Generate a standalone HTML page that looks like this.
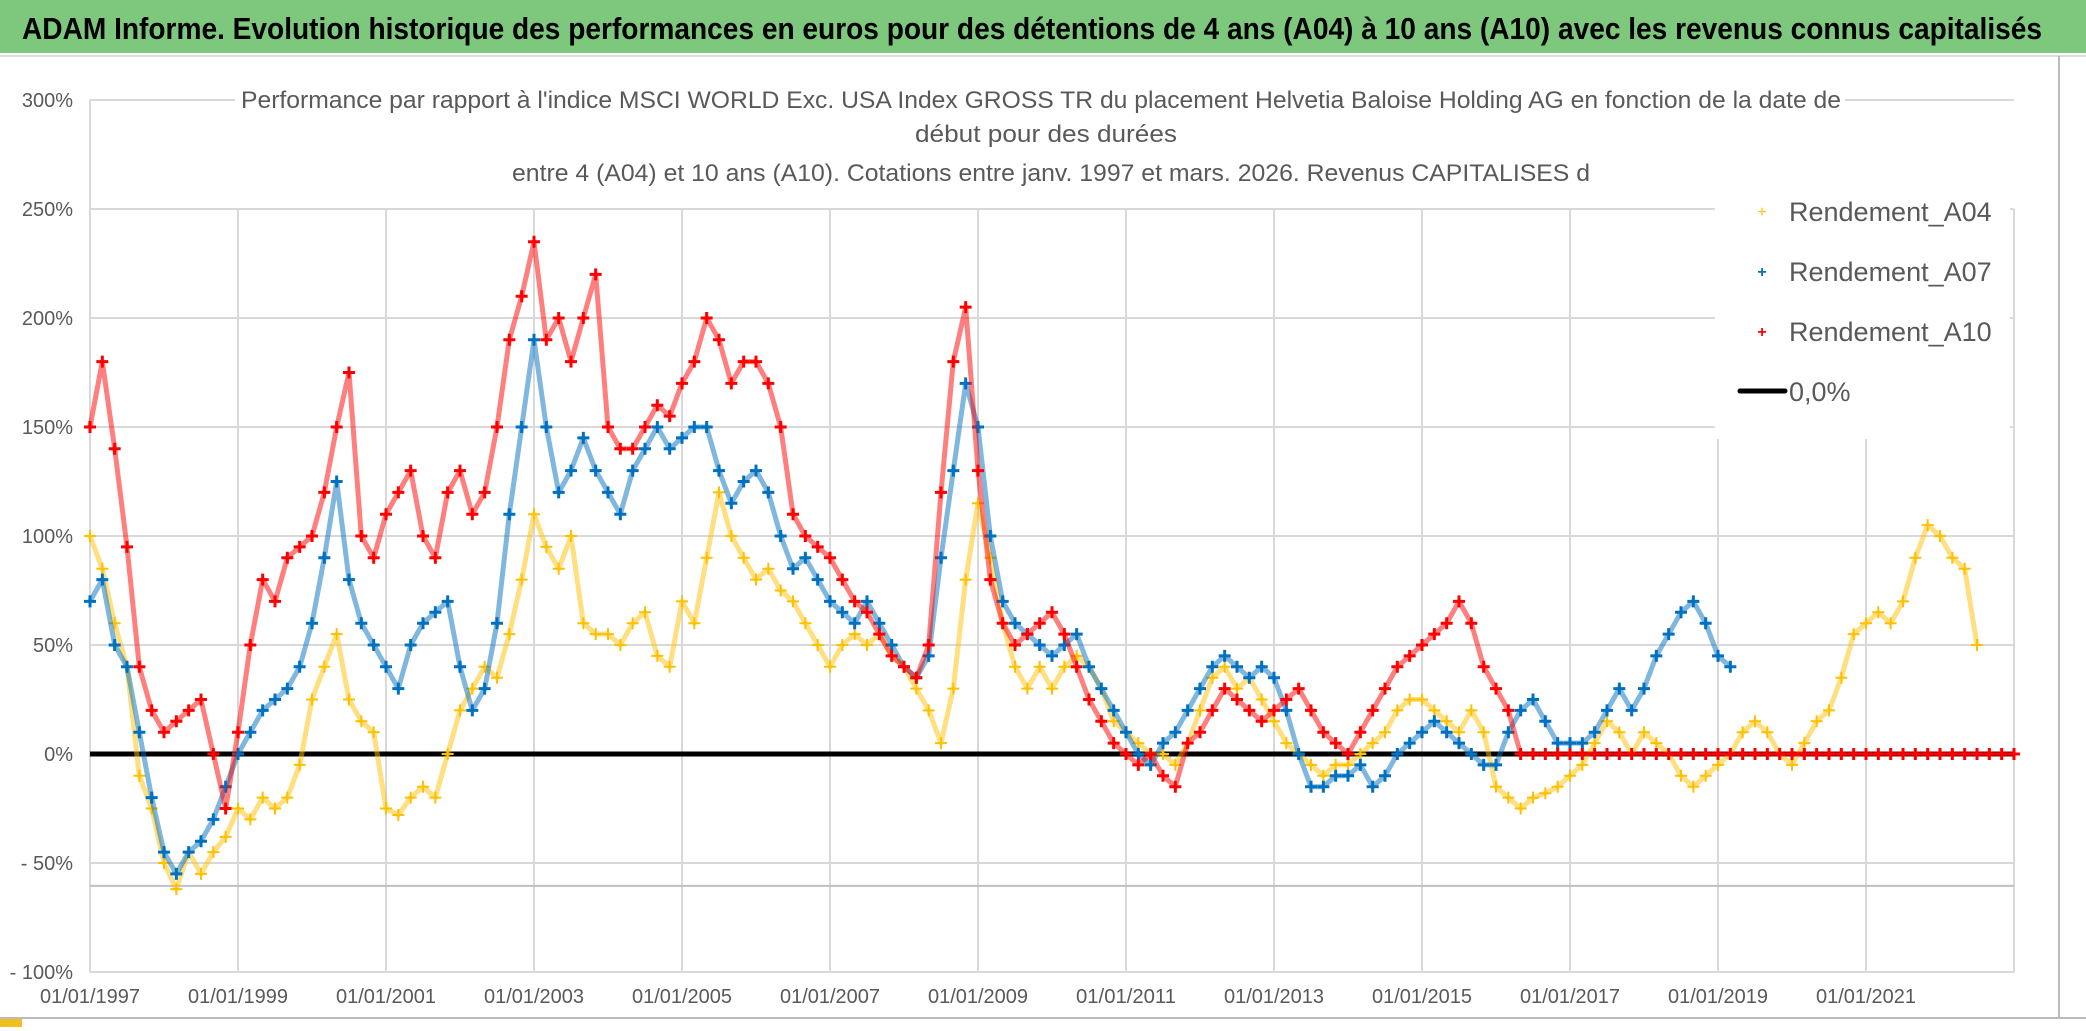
<!DOCTYPE html>
<html><head><meta charset="utf-8"><style>
html,body{margin:0;padding:0;background:#fff;}
svg{display:block;font-family:"Liberation Sans",sans-serif;}
</style></head><body>
<svg id="chart" width="2086" height="1031" viewBox="0 0 2086 1031">
<rect x="0" y="0" width="2086" height="53" fill="#7ec87e"/>
<text x="1032" y="39" text-anchor="middle" font-size="31" font-weight="bold" fill="#000" textLength="2020" lengthAdjust="spacingAndGlyphs">ADAM Informe. Evolution historique des performances en euros pour des détentions de 4 ans (A04) à 10 ans (A10) avec les revenus connus capitalisés</text>
<line x1="0" y1="56" x2="2086" y2="56" stroke="#ddd" stroke-width="2"/>
<line x1="2059" y1="56" x2="2059" y2="1017" stroke="#bbb" stroke-width="2"/>
<line x1="0" y1="1018" x2="2086" y2="1018" stroke="#bbb" stroke-width="2"/>
<rect x="0" y="1019" width="22" height="8" fill="#f0c020"/>
<g id="grid"></g>
<g id="yaxis"></g>
<g id="xaxis"></g>
<g id="series"></g>
<rect x="235" y="82" width="1610" height="108" fill="#fff"/>
<g fill="#595959" font-size="24" text-anchor="middle">
<text x="1041" y="108" textLength="1600" lengthAdjust="spacingAndGlyphs">Performance par rapport à l'indice MSCI WORLD Exc. USA Index GROSS TR  du placement Helvetia Baloise Holding AG en fonction de la date de</text>
<text x="1046" y="142" textLength="262" lengthAdjust="spacingAndGlyphs">début pour des durées</text>
<text x="1051" y="181" textLength="1078" lengthAdjust="spacingAndGlyphs">entre 4 (A04) et 10 ans (A10). Cotations entre janv. 1997 et mars. 2026. Revenus CAPITALISES d</text>
</g>
<rect x="1715" y="205" width="295" height="234" fill="#fff"/>
<g font-size="27" fill="#595959">
<g><text x="1762" y="217" font-size="16" fill="#ffc000" text-anchor="middle">+</text><text x="1789" y="221">Rendement_A04</text></g>
<g><text x="1762" y="277" font-size="16" fill="#0070c0" text-anchor="middle" font-weight="bold">+</text><text x="1789" y="281">Rendement_A07</text></g>
<g><text x="1762" y="337" font-size="16" fill="#ff0000" text-anchor="middle" font-weight="bold">+</text><text x="1789" y="341">Rendement_A10</text></g>
<g><line x1="1740" y1="391" x2="1785" y2="391" stroke="#000" stroke-width="5" stroke-linecap="round"/><text x="1789" y="401">0,0%</text></g>
</g>
</svg>
<script>
const yTicks=[300,250,200,150,100,50,0,-50,-100];
const yTickLabels=["300%","250%","200%","150%","100%","50%","0%","- 50%","- 100%"];
const xTickYears=[1997,1999,2001,2003,2005,2007,2009,2011,2013,2015,2017,2019,2021];
const xTickLabels=["01/01/1997","01/01/1999","01/01/2001","01/01/2003","01/01/2005","01/01/2007","01/01/2009","01/01/2011","01/01/2013","01/01/2015","01/01/2017","01/01/2019","01/01/2021"];
const startYear=1997;
const stepsPerYear=6;
const a04=[100,85,60,40,-10,-25, -50,-62,-45,-55,-45,-38, -25,-30,-20,-25,-20,-5, 25,40,55,25,15,10, -25,-28,-20,-15,-20,0, 20,30,40,35,55,80, 110,95,85,100,60,55, 55,50,60,65,45,40, 70,60,90,120,100,90, 80,85,75,70,60,50, 40,50,55,50,55,45, 40,30,20,5,30,80, 115,90,60,40,30,40, 30,40,45,40,30,15, 10,5,0,0,-5,5, 20,35,40,30,35,25, 15,5,0,-5,-10,-5, -5,0,5,10,20,25, 25,20,15,10,20,10, -15,-20,-25,-20,-18,-15, -10,-5,5,15,10,0, 10,5,0,-10,-15,-10, -5,0,10,15,10,0, -5,5,15,20,35,55, 60,65,60,70,90,105, 100,90,85,50];
const a07=[70,80,50,40,10,-20, -45,-55,-45,-40,-30,-15, 0,10,20,25,30,40, 60,90,125,80,60,50, 40,30,50,60,65,70, 40,20,30,60,110,150, 190,150,120,130,145,130, 120,110,130,140,150,140, 145,150,150,130,115,125, 130,120,100,85,90,80, 70,65,60,70,60,50, 40,35,45,90,130,170, 150,100,70,60,55,50, 45,50,55,40,30,20, 10,0,-5,5,10,20, 30,40,45,40,35,40, 35,20,0,-15,-15,-10, -10,-5,-15,-10,0,5, 10,15,10,5,0,-5, -5,10,20,25,15,5, 5,5,10,20,30,20, 30,45,55,65,70,60, 45,40];
const a10=[150,180,140,95,40,20, 10,15,20,25,0,-25, 10,50,80,70,90,95, 100,120,150,175,100,90, 110,120,130,100,90,120, 130,110,120,150,190,210, 235,190,200,180,200,220, 150,140,140,150,160,155, 170,180,200,190,170,180, 180,170,150,110,100,95, 90,80,70,65,55,45, 40,35,50,120,180,205, 130,80,60,50,55,60, 65,55,40,25,15,5, 0,-5,0,-10,-15,5, 10,20,30,25,20,15, 20,25,30,20,10,5, 0,10,20,30,40,45, 50,55,60,70,60,40, 30,20,0,0,0,0, 0,0,0,0,0,0, 0,0,0,0,0,0, 0,0,0,0,0,0, 0,0,0,0,0,0, 0,0,0,0,0,0, 0,0,0,0,0,0,0];
const zeroLine=[0];
const otherLine=[-60.5];

const NS="http://www.w3.org/2000/svg";
const X0=90,PX_PER_YEAR=74,Y0=754,PX_PER_PCT=2.18,XEND=2014;
function xs(t){return X0+(t-startYear)*PX_PER_YEAR;}
function ys(v){return Y0-v*PX_PER_PCT;}
function mk(tag,attrs,parent){const e=document.createElementNS(NS,tag);for(const k in attrs)e.setAttribute(k,attrs[k]);parent.appendChild(e);return e;}
const grid=document.getElementById('grid'),yax=document.getElementById('yaxis'),xax=document.getElementById('xaxis'),ser=document.getElementById('series');
yTicks.forEach((v,i)=>{
  const l=mk('line',{x1:X0,x2:XEND,y1:ys(v),y2:ys(v),stroke:'#d9d9d9','stroke-width':2},grid);
  
  
  const t=mk('text',{x:73,y:ys(v)+7,'text-anchor':'end','font-size':20,fill:'#595959'},yax);
  t.textContent=yTickLabels[i];
  
  
});
xTickYears.concat([2023]).forEach((yr,i)=>{
  const l=mk('line',{x1:xs(yr),x2:xs(yr),y1:ys(250),y2:ys(-100),stroke:'#d9d9d9','stroke-width':2},grid);
  
  
  if(i<xTickLabels.length){
    const t=mk('text',{x:xs(yr),y:1003,'text-anchor':'middle','font-size':20,fill:'#595959',textLength:100,lengthAdjust:'spacingAndGlyphs'},xax);
    t.textContent=xTickLabels[i];
    
    
  }
});
mk('line',{x1:X0,x2:X0,y1:ys(300),y2:ys(-100),stroke:'#d9d9d9','stroke-width':2},grid);
const ol=mk('line',{x1:X0,x2:XEND,y1:ys(otherLine[0]),y2:ys(otherLine[0]),stroke:'#bfbfbf','stroke-width':2},grid);


const zl=mk('line',{x1:X0,x2:XEND,y1:ys(zeroLine[0]),y2:ys(zeroLine[0]),stroke:'#000','stroke-width':5},ser);


function drawSeries(vals,color,name,w){
  const g=mk('g',{},ser);
  
  
  let d='';
  vals.forEach((v,i)=>{const t=startYear+i/stepsPerYear;d+=(i?'L':'M')+xs(t).toFixed(1)+','+ys(v).toFixed(1);});
  mk('path',{d:d,fill:'none',stroke:color,'stroke-width':5,'stroke-opacity':0.5,'stroke-linejoin':'round'},g);
  vals.forEach((v,i)=>{
    const t=startYear+i/stepsPerYear,x=xs(t),y=ys(v);
    const p=mk('path',{d:`M${x-6},${y}H${x+6}M${x},${y-6}V${y+6}`,stroke:color,'stroke-width':w},g);
    
    
  });
}
drawSeries(a04,'#ffc000','series-a04',2);
drawSeries(a07,'#0070c0','series-a07',3);
drawSeries(a10,'#ff0000','series-a10',3);
</script>
</body></html>
